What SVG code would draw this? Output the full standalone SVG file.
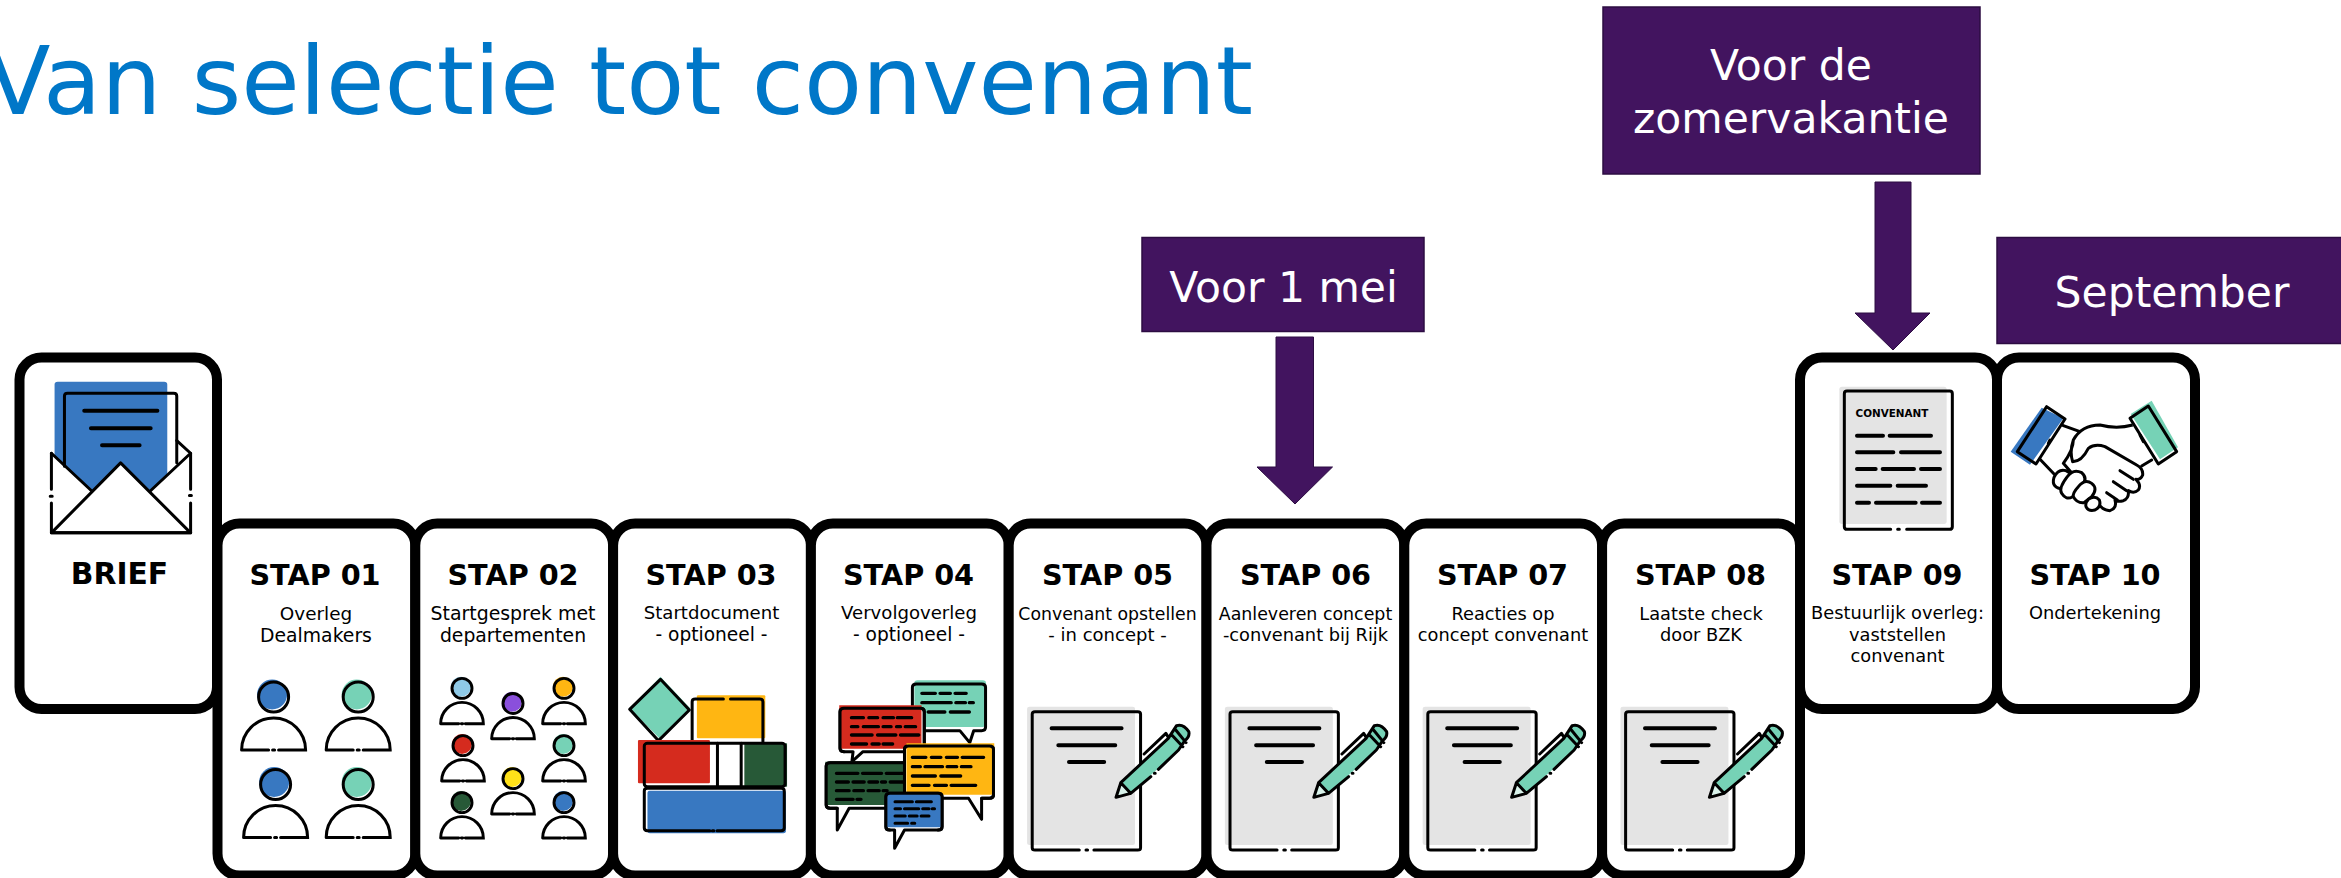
<svg xmlns="http://www.w3.org/2000/svg" width="2341" height="878" viewBox="0 0 2341 878">
<style>
text{font-family:"DejaVu Sans",Verdana,sans-serif;text-anchor:middle}
.title{font-size:95px;fill:#0077c8;text-anchor:start}
.card{fill:#fff;stroke:#000;stroke-width:10}
.h{font-size:28.700px;font-weight:700;fill:#000}
.d{font-size:18.400px;fill:#000}
.lab{fill:#42145f;stroke:#2c0c42;stroke-width:1.5}
.lt{font-size:42.500px;fill:#fff}
.arrow{fill:#42145f;stroke:#2c0c42;stroke-width:1}
.ic *{vector-effect:non-scaling-stroke}
.k{fill:none;stroke:#000;stroke-width:3;stroke-linecap:round;stroke-linejoin:round}
.t{stroke:#000;stroke-width:3.4;stroke-linecap:round;fill:none}
.w{fill:#fff;stroke:#000;stroke-width:3;stroke-linejoin:round}
.n{stroke:none}
</style>
<defs>
<g id="person">
<circle class="n" cx="-1.500" cy="-55.500" r="15"/>
<circle cx="0" cy="-53" r="15" fill="none" stroke="#000"/>
<path d="M-32 0A32 32 0 0 1 32 0H5M-5 0H-32M-1 0H1" fill="none" stroke="#000" stroke-linecap="round"/>
</g>
<g id="docpen" class="ic">
<rect class="n" x="1080" y="620" width="273" height="415" rx="6" fill="#e4e4e4"/>
<path class="k" d="M1212 1050H1100Q1093 1050 1093 1043V642Q1093 635 1100 635H1360Q1367 635 1367 642V1043Q1367 1050 1360 1050H1249M1229 1050H1233"/>
<path class="t" d="M1142 685H1319M1159 736H1303M1186 786H1275" style="stroke-width:4"/>
<path d="M1305 892L1317 848L1437 715L1458 677Q1475 670 1489 695Q1492 710 1479 722L1463 750L1342 880Z" fill="#76d2b6" stroke="none"/>
<path d="M1342 880L1317 848L1305 892Z" fill="#d9f2ea" stroke="none"/>
<path class="k" d="M1305 892L1317 848L1437 715L1458 677Q1475 670 1489 695Q1492 710 1479 722L1463 750L1412 808M1393 830L1342 880L1305 892M1317 848L1342 880M1376 762L1431 700L1437 712M1446 705L1474 740M1456 690L1482 728M1402 820H1404"/>
</g>
</defs>

<text class="title" x="-14.600" y="114">Van selectie tot convenant</text>

<g id="connectors">
<path class="arrow" d="M1276 337H1313.500V467H1332.500L1295 504L1257 467H1276Z"/>
<path class="arrow" d="M1875 182H1911V313H1930L1893 350L1855 313H1875Z"/>
</g>

<g id="label-mei"><rect class="lab" x="1142" y="237.500" width="282" height="94"/><text class="lt" x="1283.500" y="302">Voor 1 mei</text></g>
<g id="label-zomer"><rect class="lab" x="1603" y="7" width="377" height="167"/><text class="lt" x="1791" y="80">Voor de</text><text class="lt" x="1791" y="132.500">zomervakantie</text></g>
<g id="label-september"><rect class="lab" x="1997" y="237.500" width="360" height="106"/><text class="lt" x="2172" y="307">September</text></g>

<g id="brief">
<rect class="card" x="19.500" y="357.500" width="197.500" height="351.500" rx="22"/>
<g class="ic" transform="translate(0,340) scale(.39544,.34317)">
<path class="n" d="M138 130Q138 122 146 122H415Q423 122 423 130V395L380 440L305 358L232 440L138 340Z" fill="#3878c1"/>
<path class="k" d="M163 368V163Q163 155 171 155H439Q447 155 447 163V358"/>
<path class="t" d="M213 206H398M230 257H381M258 307H353" style="stroke-width:4"/>
<path class="k" d="M130 330L232 440M482 330L447 293M482 330L380 440"/>
<path class="k" d="M130 562L305 358L482 562Z"/>
<path class="k" d="M130 330V435M130 475V562H482V475M482 435V330M127 455H132M479 453H484"/>
</g>
<text class="h" x="119.500" y="584" style="font-size:29.800px">BRIEF</text>
</g>

<g id="stap-01">
<rect class="card" x="217.500" y="523.500" width="197.800" height="352" rx="22"/>
<text class="h" x="315" y="585">STAP 01</text>
<text class="d" x="316" y="620">Overleg</text><text class="d" x="316" y="642" style="font-size:18.800px">Dealmakers</text>
<g stroke-width="3">
<use href="#person" x="273.600" y="750" fill="#3878c1"/>
<use href="#person" x="358.200" y="750" fill="#76d2b6"/>
<use href="#person" x="275.600" y="837.500" fill="#3878c1"/>
<use href="#person" x="358.200" y="837.500" fill="#76d2b6"/>
</g>
</g>

<g id="stap-02">
<rect class="card" x="415.300" y="523.500" width="197.800" height="352" rx="22"/>
<text class="h" x="513" y="585">STAP 02</text>
<text class="d" x="513" y="620" style="font-size:18.900px">Startgesprek met</text><text class="d" x="513" y="642" style="font-size:18.800px">departementen</text>
<g stroke-width="4.400">
<use href="#person" transform="translate(462,723.700) scale(.667)" fill="#8fcae7"/>
<use href="#person" transform="translate(513,738.800) scale(.667)" fill="#8a4fdc"/>
<use href="#person" transform="translate(564,723.700) scale(.667)" fill="#ffb612"/>
<use href="#person" transform="translate(463,781) scale(.667)" fill="#d52b1e"/>
<use href="#person" transform="translate(564,781) scale(.667)" fill="#76d2b6"/>
<use href="#person" transform="translate(513,814) scale(.667)" fill="#ffe119"/>
<use href="#person" transform="translate(462,838) scale(.667)" fill="#275937"/>
<use href="#person" transform="translate(564,838) scale(.667)" fill="#3878c1"/>
</g>
</g>

<g id="stap-03">
<rect class="card" x="613.100" y="523.500" width="197.800" height="352" rx="22"/>
<text class="h" x="711" y="585">STAP 03</text>
<text class="d" x="711.500" y="619" style="font-size:18.100px">Startdocument</text><text class="d" x="711.500" y="641" style="font-size:18.600px">- optioneel -</text>
<g class="ic" transform="translate(600,500) scale(.39544,.33333)">
<path class="n" d="M153 530L228 625L150 715L75 625Z" fill="#76d2b6"/>
<path d="M153 538L226 630L148 722L75 628Z" fill="none" stroke="#000" stroke-width="3" stroke-linejoin="round"/>
<rect class="n" x="245" y="586" width="173" height="129" rx="3" fill="#ffb612"/>
<path class="k" d="M233 725V605Q233 597 241 597H312M330 597H404Q412 597 412 605V725"/>
<rect class="n" x="96" y="720" width="182" height="130" rx="3" fill="#d52b1e"/>
<rect class="n" x="365" y="730" width="108" height="130" fill="#275937"/>
<rect class="k" x="112" y="730" width="356" height="130" rx="8"/>
<path class="k" d="M297 730V860M357 730V860"/>
<rect class="n" x="120" y="872" width="350" height="128" rx="6" fill="#3878c1"/>
<path class="k" d="M278 992H120Q112 992 112 984V873Q112 865 120 865H458Q466 865 466 873V984Q466 992 458 992H296M284 992H288"/>
</g>
</g>

<g id="stap-04">
<rect class="card" x="810.900" y="523.500" width="197.800" height="352" rx="22"/>
<text class="h" x="908.500" y="585">STAP 04</text>
<text class="d" x="909" y="619" style="font-size:18.100px">Vervolgoverleg</text><text class="d" x="909" y="641" style="font-size:18.600px">- optioneel -</text>
<g class="ic" transform="translate(600,500) scale(.39544,.33333)">
<rect class="n" x="795" y="541" width="181" height="140" rx="8" fill="#76d2b6"/>
<path class="k" d="M910 692L935 728L945 692H965Q975 692 975 682V562Q975 552 965 552H800Q790 552 790 562V682Q790 692 800 692Z"/>
<path class="t" d="M814 580H848M860 580H886M898 580H926M814 608H888M900 608H924M934 608H944M830 636H872M886 636H934"/>
<path d="M640 755L637 785L665 755H810Q820 755 820 745V635Q820 625 810 625H617Q607 625 607 635V745Q607 755 617 755Z" fill="#fff" stroke="#000" stroke-width="3" stroke-linejoin="round"/>
<path class="n" d="M605 616H813V746H605Z" fill="#d52b1e"/>
<path class="k" d="M607 635V745Q607 755 617 755M607 635Q607 625 617 625H810Q820 625 820 635V745"/>
<path class="t" d="M636 653H666M680 653H702M716 653H742M752 653H788M636 680H652M666 680H704M716 680H736M750 680H760M772 680H798M636 705H688M702 705H748M760 705H806M636 732H674M688 732H706M716 732H740"/>
<path d="M600 925L600 990L630 925H770Q780 925 780 915V798Q780 788 770 788H582Q572 788 572 798V915Q572 925 582 925Z" fill="#fff" stroke="#000" stroke-width="3" stroke-linejoin="round"/>
<path class="n" d="M570 785H778V915H570Z" fill="#275937"/>
<path class="k" d="M572 798V915Q572 925 582 925H600M572 798Q572 788 582 788H770"/>
<path class="t" d="M598 820H652M664 820H712M724 820H768M598 846H628M640 846H668M680 846H702M712 846H722M734 846H768M598 872H630M642 872H666M678 872H706M716 872H726M598 898H640M650 898H660"/>
<path d="M932 895L965 958L965 895H985Q995 895 995 885V748Q995 738 985 738H780Q770 738 770 748V885Q770 895 780 895Z" fill="#fff" stroke="#000" stroke-width="3" stroke-linejoin="round"/>
<path class="n" d="M775 730H997V884H775Z" fill="#ffb612"/>
<path class="k" d="M995 748V885Q995 895 985 895H965M770 748Q770 738 780 738H985Q995 738 995 748M770 748V885"/>
<path class="t" d="M790 772H824M838 772H862M876 772H904M916 772H970M790 800H810M822 800H866M878 800H902M914 800H938M790 828H848M862 828H912M790 856H832M846 856H876M888 856H950"/>
<path d="M745 990L745 1045L770 990H855Q865 990 865 980V890Q865 880 855 880H733Q723 880 723 890V980Q723 990 733 990Z" fill="#fff" stroke="#000" stroke-width="3" stroke-linejoin="round"/>
<path class="n" d="M726 876H862V982H726Z" fill="#3878c1"/>
<path class="k" d="M723 890V980Q723 990 733 990M723 890Q723 880 733 880H855Q865 880 865 890V980Q865 990 855 990"/>
<path class="t" d="M746 905H790M800 905H838M746 926H760M770 926H806M816 926H832M840 926H846M746 948H772M782 948H802M812 948H832M746 970H778M788 970H796" style="stroke-width:3"/>
</g>
</g>

<g id="stap-05">
<rect class="card" x="1008.700" y="523.500" width="197.800" height="352" rx="22"/>
<text class="h" x="1107.500" y="585">STAP 05</text>
<text class="d" x="1107.500" y="619.500" style="font-size:17.300px">Convenant opstellen</text><text class="d" x="1107.500" y="640.500" style="font-size:18px">- in concept -</text>
<use href="#docpen" transform="translate(600,500) scale(.39544,.33333)"/>
</g>

<g id="stap-06">
<rect class="card" x="1206.500" y="523.500" width="197.800" height="352" rx="22"/>
<text class="h" x="1305.500" y="585">STAP 06</text>
<text class="d" x="1305.500" y="619.500" style="font-size:17.400px">Aanleveren concept</text><text class="d" x="1305.500" y="640.500" style="font-size:17.800px">-convenant bij Rijk</text>
<use href="#docpen" transform="translate(797.800,500) scale(.39544,.33333)"/>
</g>

<g id="stap-07">
<rect class="card" x="1404.300" y="523.500" width="197.800" height="352" rx="22"/>
<text class="h" x="1502.500" y="585">STAP 07</text>
<text class="d" x="1503" y="619.500" style="font-size:17.800px">Reacties op</text><text class="d" x="1503" y="640.500" style="font-size:17.800px">concept convenant</text>
<use href="#docpen" transform="translate(995.600,500) scale(.39544,.33333)"/>
</g>

<g id="stap-08">
<rect class="card" x="1602.100" y="523.500" width="197.900" height="352" rx="22"/>
<text class="h" x="1700.500" y="585">STAP 08</text>
<text class="d" x="1701" y="619.500" style="font-size:17.800px">Laatste check</text><text class="d" x="1701" y="640.500" style="font-size:17.800px">door BZK</text>
<use href="#docpen" transform="translate(1193.400,500) scale(.39544,.33333)"/>
</g>

<g id="stap-09">
<rect class="card" x="1800" y="357.500" width="197" height="351.500" rx="22"/>
<g class="ic" transform="translate(1780,340) scale(.33333)">
<rect class="n" x="178" y="140" width="322" height="412" rx="8" fill="#e4e4e4"/>
<path class="k" d="M332 568H201Q193 568 193 560V161Q193 153 201 153H509Q517 153 517 161V560Q517 568 509 568H380M353 568H358"/>
<path class="t" d="M231 287H309M329 287H453M231 337H340M363 337H480M231 387H287M308 387H402M423 387H480M231 437H331M353 437H438M231 488H267M288 488H407M426 488H480" style="stroke-width:4"/>
</g>
<text x="1892" y="417" style="font-size:10.400px;font-weight:700">CONVENANT</text>
<text class="h" x="1897" y="585">STAP 09</text>
<text class="d" x="1897.500" y="619" style="font-size:17.800px">Bestuurlijk overleg:</text><text class="d" x="1897.500" y="641" style="font-size:17.800px">vaststellen</text><text class="d" x="1897.500" y="662" style="font-size:17.800px">convenant</text>
</g>

<g id="stap-10">
<rect class="card" x="1997" y="357.500" width="198" height="351.500" rx="22"/>
<g class="ic" transform="translate(1780,340) scale(.33333)">
<path class="n" d="M785 203L692 335L750 374L850 235Z" fill="#3878c1"/>
<path class="n" d="M1115 182L1194 322L1140 358L1052 222Z" fill="#76d2b6"/>
<path class="k" d="M800 200L855 237L768 372L712 335Z"/>
<path class="k" d="M1105 198L1190 335L1135 372L1050 235Z"/>
<path class="k" d="M850 257L900 275M780 358L825 405M1115 360L1085 378M810 300L805 310M1080 285L1090 305"/>
<path class="w" d="M1058 255Q1010 268 960 255Q905 255 880 300Q868 335 878 365Q905 365 925 325Q945 310 975 320L1070 375Q1090 385 1088 405Q1082 420 1068 418Q1085 435 1075 450Q1062 462 1045 452Q1048 475 1030 482Q1012 486 1005 480Q1012 505 990 512Q965 510 950 485L850 370Q880 330 880 300"/>
<path class="w" d="M822 412Q835 385 858 392L880 405Q872 445 852 448Q812 445 822 412Z"/>
<path class="w" d="M862 410Q880 385 905 398Q925 415 905 440L878 470Q858 482 845 460Q835 445 862 410Z"/>
<path class="w" d="M895 440Q915 415 935 430Q955 445 935 470L912 488Q890 490 880 470Q878 458 895 440Z"/>
<path class="w" d="M925 478Q945 465 958 480Q965 500 945 510Q925 515 918 500Q915 488 925 478Z"/>
<path class="k" d="M1020 392L1060 418M1000 425L1040 452M980 458L1012 480"/>
</g>
<text class="h" x="2095" y="585">STAP 10</text>
<text class="d" x="2095" y="619" style="font-size:17.800px">Ondertekening</text>
</g>
</svg>
